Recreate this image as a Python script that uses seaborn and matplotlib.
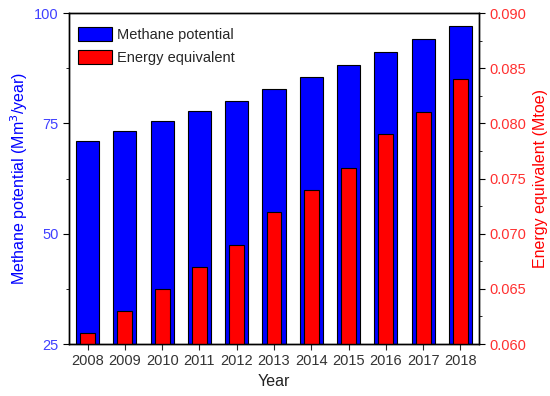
import pandas as pd
import matplotlib
matplotlib.use("Agg")
import matplotlib.pyplot as plt
import seaborn as sns
from matplotlib.patches import Patch
from matplotlib.ticker import MultipleLocator

# values
years = ["2008", "2009", "2010", "2011", "2012", "2013", "2014", "2015", "2016", "2017", "2018"]
methane = [71.0, 73.2, 75.5, 77.8, 80.1, 82.8, 85.5, 88.3, 91.1, 94.1, 97.1]
energy = [0.061, 0.063, 0.065, 0.067, 0.069, 0.072, 0.074, 0.076, 0.079, 0.081, 0.084]

df = pd.DataFrame({"Year": years, "Methane": methane, "Energy": energy})

sns.set_style("ticks")
plt.rcParams["font.family"] = ["Liberation Sans", "DejaVu Sans"]

fig = plt.figure(figsize=(5.5, 3.96), dpi=100)
ax = fig.add_axes([0.1255, 0.1313, 0.7455, 0.8357])

# methane potential on the left axis
sns.barplot(data=df, x="Year", y="Methane", color="#0000FF", saturation=1,
            width=0.62, edgecolor="black", linewidth=0.8, ax=ax)
ax.set_ylim(25, 100)
ax.set_xlim(-0.5, 10.5)

# energy equivalent on the right axis
ax2 = ax.twinx()
sns.barplot(data=df, x="Year", y="Energy", color="#FF0000", saturation=1,
            width=0.40, edgecolor="black", linewidth=0.8, ax=ax2)
ax2.set_ylim(0.060, 0.090)
ax2.set_xlim(-0.5, 10.5)

# ticks
ax.yaxis.set_major_locator(MultipleLocator(25))
ax.yaxis.set_minor_locator(MultipleLocator(12.5))
ax2.yaxis.set_major_locator(MultipleLocator(0.005))
ax2.yaxis.set_minor_locator(MultipleLocator(0.0025))
ax2.yaxis.set_major_formatter(matplotlib.ticker.FormatStrFormatter("%.3f"))

ax.tick_params(axis="y", which="both", direction="out", colors="black", labelcolor="#4040FF", labelsize=10.5)
ax.tick_params(axis="y", which="major", length=4)
ax.tick_params(axis="y", which="minor", length=2.5)
ax.tick_params(axis="x", direction="out", length=4, labelsize=10.5, labelcolor="#333333")
ax2.tick_params(axis="y", which="both", direction="out", colors="black", labelcolor="#FF3030", labelsize=10.5)
ax2.tick_params(axis="y", which="major", length=4)
ax2.tick_params(axis="y", which="minor", length=2.5)

for a in (ax, ax2):
    for s in a.spines.values():
        s.set_visible(True)
        s.set_color("black")
        s.set_linewidth(1.0)

ax.set_xlabel("Year", fontsize=11.5, color="#222222")
ax.set_ylabel("Methane potential (Mm$^3$/year)", fontsize=11.5, color="#0000FF", labelpad=3)
ax2.set_ylabel("Energy equivalent (Mtoe)", fontsize=11.5, color="#FF0000", labelpad=5)

handles = [Patch(facecolor="#0000FF", edgecolor="black", linewidth=0.8, label="Methane potential"),
           Patch(facecolor="#FF0000", edgecolor="black", linewidth=0.8, label="Energy equivalent")]
ax2.legend(handles=handles, loc="upper left", bbox_to_anchor=(-0.012, 1.0), frameon=False,
           fontsize=10.5, handlelength=2.3, handleheight=1.1, handletextpad=0.4,
           labelspacing=0.55, borderaxespad=0.55)

plt.savefig("out.png", dpi=100)
plt.close()
